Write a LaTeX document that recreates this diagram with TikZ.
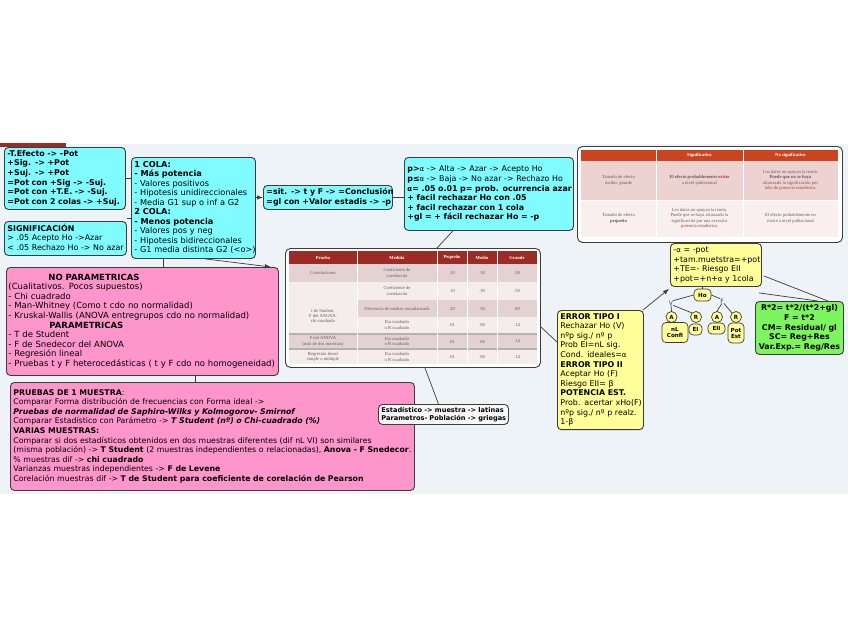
\documentclass[tikz,border=0pt]{standalone}
\usepackage{fontspec}
\setmainfont{DejaVu Sans}
\newfontfamily\tabfont{Liberation Serif}
\usetikzlibrary{arrows.meta}

\definecolor{bgmap}{HTML}{EDF3F6}
\definecolor{cyanbox}{HTML}{80FBFF}
\definecolor{pinkbox}{HTML}{FF96CB}
\definecolor{yellowbox}{HTML}{FFFF99}
\definecolor{greenbox}{HTML}{7DF55E}
\definecolor{boxline}{HTML}{3C3C3C}
\definecolor{thead}{HTML}{9B2B24}
\definecolor{tdark}{HTML}{E4D2D2}
\definecolor{tlight}{HTML}{F5ECEC}
\definecolor{ohead}{HTML}{CB4420}
\definecolor{odark}{HTML}{ECD2D1}
\definecolor{olight}{HTML}{F8EFEE}
\definecolor{ttext}{HTML}{6B5858}
\definecolor{tred}{HTML}{B23A2A}

\newcommand{\mapfont}{\fontsize{7.9}{9.6}\selectfont}
\newcommand{\bigmapfont}{\fontsize{8.2}{9.5}\selectfont}
\newcommand{\smallmapfont}{\fontsize{6.6}{8}\selectfont}
\newcommand{\tinyfont}{\tabfont\fontsize{4.6}{5.4}\selectfont}
\newcommand{\boxlines}[1]{\begin{tabular}{@{}l@{}}#1\end{tabular}}

\tikzset{
  mapbox/.style={draw=boxline, line width=0.9pt, rounded corners=4pt, anchor=north west, inner xsep=3pt, inner ysep=2pt, align=left, font=\mapfont},
  cyannode/.style={mapbox, fill=cyanbox},
  pinknode/.style={mapbox, fill=pinkbox},
  yellownode/.style={mapbox, fill=yellowbox},
  greennode/.style={mapbox, fill=greenbox, align=center},
  tablebox/.style={draw=boxline, fill=white, line width=0.9pt, rounded corners=5pt, anchor=north west, inner sep=0pt},
  pill/.style={draw=boxline, fill=yellowbox, rounded corners=4pt, line width=0.7pt, inner sep=0.5pt, font=\bfseries\fontsize{5.6}{6}\selectfont, align=center},
  bubble/.style={pill, circle, minimum size=11pt},
  link/.style={draw=boxline, line width=0.7pt},
  cell/.style={font=\tinyfont, text=ttext, align=center, inner sep=0pt},
}

\begin{document}
\begin{tikzpicture}[x=1pt,y=-1pt]
  \useasboundingbox (0,0) rectangle (848,638);
  \fill[bgmap] (0,144) rectangle (848,494);
  \fill[thead] (0,143) rectangle (66,147);

  % left column
  \node[cyannode, font=\mapfont\bfseries, text width=115pt, minimum height=62pt] (effA) at (4,147) {\boxlines{
    -T.Efecto -> -Pot\\
    +Sig. -> +Pot\\
    +Suj. -> +Pot\\
    =Pot con +Sig -> -Suj.\\
    =Pot con +T.E. -> -Suj.\\
    =Pot con 2 colas -> +Suj.}};
  \node[cyannode, text width=116pt, minimum height=34pt] (sig) at (4,221) {\boxlines{
    \textbf{SIGNIFICACIÓN}\\
    > .05 Acepto Ho ->Azar\\
    < .05 Rechazo Ho -> No azar}};
  \node[cyannode, font=\bigmapfont, text width=118pt, minimum height=101pt] (cola) at (131,157) {\boxlines{
    \textbf{1 COLA:}\\
    \textbf{- Más potencia}\\
    - Valores positivos\\
    - Hipotesis unidireccionales\\
    - Media G1 sup o inf a G2\\
    \textbf{2 COLA:}\\
    \textbf{- Menos potencia}\\
    - Valores pos y neg\\
    - Hipotesis bidireccionales\\
    - G1 media distinta G2 (<o>)}};
  \node[cyannode, font=\mapfont\bfseries, text width=123pt, minimum height=24pt] (sit) at (263,185) {\boxlines{
    =sit. -> t y F -> =Conclusión\\
    =gl con +Valor estadis -> -p}};
  \node[cyannode, text width=163pt, minimum height=73pt] (pval) at (404,157) {\boxlines{
    \textbf{p>}{\scriptsize α} -> Alta -> Azar -> Acepto Ho\\
    \textbf{p≤}{\scriptsize α} -> Baja -> No azar -> Rechazo Ho\\
    \textbf{{\scriptsize α}= .05 o.01 p= prob. ocurrencia azar}\\
    \textbf{+ facil rechazar Ho con .05}\\
    \textbf{+ facil rechazar con 1 cola}\\
    \textbf{+gl = + fácil rechazar Ho = -p}}};

  \node[pinknode, font=\fontsize{8.5}{9.6}\selectfont, inner xsep=2pt, text width=268pt, minimum height=108pt] (nopar) at (6,267) {\boxlines{
    \hspace*{40pt}\textbf{NO PARAMETRICAS}\\
    (Cualitativos. Pocos supuestos)\\
    - Chi cuadrado\\
    - Man-Whitney (Como t cdo no normalidad)\\
    - Kruskal-Wallis (ANOVA entregrupos cdo no normalidad)\\
    \hspace*{41pt}\textbf{PARAMETRICAS}\\
    - T de Student\\
    - F de Snedecor del ANOVA\\
    - Regresión lineal\\
    - Pruebas t y F heterocedásticas ( t y F cdo no homogeneidad)}};
  \node[pinknode, font=\fontsize{7.8}{9.6}\selectfont, text width=398pt, minimum height=108pt] (prue) at (10,382) {\boxlines{
    \textbf{PRUEBAS DE 1 MUESTRA}:\\
    Comparar Forma distribución de frecuencias con Forma ideal ->\\
    \textbf{\textit{Pruebas de normalidad de Saphiro-Wilks y Kolmogorov- Smirnof}}\\
    Comparar Estadístico con Parámetro -> \textbf{\textit{T Student (nº) o Chi-cuadrado (\%)}}\\
    \textbf{VARIAS MUESTRAS:}\\
    Comparar si dos estadísticos obtenidos en dos muestras diferentes (dif nL VI) son similares\\
    (misma población) -> \textbf{T Student} (2 muestras independientes o relacionadas), \textbf{Anova - F Snedecor}.\\
    \% muestras dif -> \textbf{chi cuadrado}\\
    Varianzas muestras independientes -> \textbf{F de Levene}\\
    Corelación muestras dif -> \textbf{T de Student para coeficiente de corelación de Pearson}}};
  \node[mapbox, fill=white!94!gray, font=\smallmapfont\bfseries, text width=124pt, minimum height=19pt] (estad) at (378,404) {\boxlines{
    Estadístico -> muestra -> latinas\\
    Parametros- Población -> griegas}};

  % tabla de tamanos del efecto
  \node[tablebox, minimum width=255pt, minimum height=119pt] (tabA) at (285,248) {};
  \fill[thead] (289,251) rectangle (537,264);
  \fill[tdark] (289,264) rectangle (537,282);
  \fill[tlight] (289,282) rectangle (537,300);
  \fill[tdark] (357,300) rectangle (537,317);
  \fill[tlight] (289,300) rectangle (357,333);
  \fill[tlight] (357,317) rectangle (537,333);
  \fill[gray!60] (289,333) rectangle (537,335);
  \fill[tdark] (289,335) rectangle (537,348);
  \fill[gray!60] (289,348) rectangle (537,349.5);
  \fill[tlight] (289,349.5) rectangle (537,364);
  \foreach \cx in {357,437,467,497}
    \draw[white, line width=0.6pt] (\cx,251) -- (\cx,364);
  \foreach \hx/\htxt [count=\i] in {323/Prueba, 397/Medida, 452/Pequeño, 482/Medio, 517/Grande}
    \node[cell, text=white, font=\tinyfont\bfseries] (tAh\i) at (\hx,257.5) {\htxt};
  \node[cell] (tAp1) at (323,273) {Correlaciones};
  \node[cell] (tAp2) at (323,316) {t de Student,\\F del ANOVA,\\chi-cuadrado};
  \node[cell] (tAp3) at (323,341.5) {F del ANOVA\\(más de dos muestras)};
  \node[cell] (tAp4) at (323,357) {Regresión lineal\\simple o múltiple};
  \node[cell] (tAm1) at (397,273) {Coeficiente de\\correlación};
  \node[cell] (tAm2) at (397,291) {Coeficiente de\\correlación};
  \node[cell] (tAm3) at (397,308.5) {Diferencia de medias estandarizada};
  \node[cell] (tAm4) at (397,325) {Eta cuadrado\\o R cuadrado};
  \node[cell] (tAm5) at (397,341.5) {Eta cuadrado\\o R cuadrado};
  \node[cell] (tAm6) at (397,357) {Eta cuadrado\\o R cuadrado};
  \foreach \ry/\va/\vb/\vc [count=\i] in {273/.10/.30/.50, 291/.10/.30/.50, 308.5/.20/.50/.80,
      325/.01/.06/.14, 341.5/.01/.06/.14, 357/.01/.06/.14}{
    \node[cell] (tAa\i) at (452,\ry) {\va};
    \node[cell] (tAb\i) at (482,\ry) {\vb};
    \node[cell] (tAc\i) at (517,\ry) {\vc};
  }

  % tabla significacion / tamano
  \node[tablebox, minimum width=265pt, minimum height=96pt] (tabB) at (577,146) {};
  \fill[ohead] (581,150) rectangle (838,161);
  \fill[odark] (581,161) rectangle (838,200);
  \fill[olight] (581,200) rectangle (838,237);
  \draw[white, line width=0.6pt] (656,150) -- (656,237) (743,150) -- (743,237) (581,200) -- (838,200);
  \node[cell, text=white, font=\tinyfont\bfseries] (tBh1) at (699.5,155.5) {Significativo};
  \node[cell, text=white, font=\tinyfont\bfseries] (tBh2) at (790.5,155.5) {No significativo};
  \node[cell] (tBa1) at (618.5,180.5) {Tamaño de efecto\\medio- grande};
  \node[cell] (tBa2) at (618.5,218.5) {Tamaño de efecto\\\textbf{pequeño}};
  \node[cell] (tBb1) at (699.5,180.5) {\textbf{El efecto probablemente \textcolor{tred}{existe}}\\a nivel poblacional};
  \node[cell] (tBb2) at (699.5,218.5) {Los datos no apoyan la teoría.\\Puede que se haya alcanzado la\\significación por una excesiva\\\textcolor{tred}{potencia estadística.}};
  \node[cell] (tBc1) at (790.5,180.5) {Los datos no apoyan la teoría.\\\textbf{Puede que no se haya}\\alcanzado la significación por\\\textcolor{tred}{falta de potencia estadística.}};
  \node[cell] (tBc2) at (790.5,218.5) {El efecto probablemente no\\existe a nivel poblacional};

  % derecha
  \node[yellownode, text width=80pt, minimum height=118pt] (err) at (557,310) {\boxlines{
    \textbf{ERROR TIPO I}\\
    Rechazar Ho (V)\\
    nºp sig./ nº p\\
    Prob EI=nL sig.\\
    Cond. ideales={\scriptsize α}\\
    \textbf{ERROR TIPO II}\\
    Aceptar Ho (F)\\
    Riesgo EII= β\\
    \textbf{POTENCIA EST.}\\
    Prob. acertar xHo(F)\\
    nºp sig./ nº p realz.\\
    1-β}};
  \node[yellownode, text width=85pt, minimum height=43pt] (alpha) at (670,243) {\boxlines{
    -{\scriptsize α} = -pot\\
    +tam.muetstra=+pot\\
    +TE=- Riesgo EII\\
    +pot=+n+{\scriptsize α} y 1cola}};
  \node[greennode, font=\fontsize{7.9}{9.6}\selectfont\bfseries, text width=82pt, minimum height=53pt] (green) at (755,301) {
    R*2= t*2/(t*2+gl)\\
    F = t*2\\
    CM= Residual/ gl\\
    SC= Reg+Res\\
    Var.Exp.= Reg/Res};

  % arbol Ho
  \node[pill, minimum width=17pt, minimum height=12pt] (ho) at (702.5,295) {Ho};
  \node[inner sep=0pt, text=boxline, font=\fontsize{6}{6}\selectfont] (vlab) at (671,303) {V};
  \node[inner sep=0pt, text=boxline, font=\fontsize{6}{6}\selectfont] (flab) at (722,301) {F};
  \node[bubble] (aV) at (671.5,317) {A};
  \node[bubble] (rV) at (696,317) {R};
  \node[bubble] (aF) at (717,317) {A};
  \node[bubble] (rF) at (736,317) {R};
  \node[pill, minimum width=26pt, minimum height=20pt] (conf) at (675,332.5) {nL\\Confi};
  \node[pill, minimum width=13pt, minimum height=11pt] (eI) at (695.5,329.5) {EI};
  \node[pill, minimum width=17pt, minimum height=11pt] (eII) at (716.5,328.5) {EII};
  \node[pill, minimum width=16pt, minimum height=20pt] (potest) at (736,333) {Pot\\Est};

  % conectores
  \draw[link] (effA.east) -- (effA.east -| cola.west);
  \draw[link] ([yshift=3pt]sig.north east) -- ([yshift=3pt]sig.north east -| cola.west);
  \draw[link, -{Latex[length=6pt,width=4.5pt]}] (cola.east |- sit.west) -- (sit.west);
  \draw[link] (sit.east) -- (sit.east -| pval.west);
  \draw[link] ([xshift=-36pt]pval.south) -- ([xshift=24pt]tabA.north);
  \draw[link] ([xshift=-30pt]cola.south) -- ([xshift=-30pt]cola.south |- nopar.north);
  \draw[link, -{Latex[length=6pt,width=4.5pt]}] ([xshift=12pt]cola.south) -- ([xshift=-8pt]nopar.north east);
  \draw[link] ([xshift=53pt]nopar.south) -- ([xshift=53pt]nopar.south |- prue.north);
  \draw[link] ([yshift=-19pt]tabA.east) -- ([yshift=28pt]err.west);
  \draw[link] ([xshift=12pt]tabA.south) -- ([xshift=-5pt]estad.north);
  \draw[link, -{Latex[length=6pt,width=4.5pt]}] ([xshift=-1pt]err.north east) -- ([xshift=-1pt,yshift=-2pt]alpha.south west);
  \draw[link] ([xshift=2pt,yshift=-11pt]alpha.east) -- ([xshift=-16pt]green.north east);
  \draw[link] ([xshift=-3pt,yshift=-6pt]alpha.south east) -- ([xshift=-26pt]green.north east);
  \draw[link] ([xshift=31pt]tabB.south) -- ([xshift=25.5pt]alpha.north);
  \draw[link] (ho.north) -- (ho.north |- alpha.south);
  \draw[link] (ho.west) -- (vlab.north east);
  \draw[link] (ho.east) -- (flab.north west);
  \draw[link] (vlab.south) -- (aV.north);
  \draw[link] (vlab.south east) -- (rV.north west);
  \draw[link] (flab.south) -- (aF.north);
  \draw[link] (flab.south east) -- (rF.north west);
\end{tikzpicture}
\end{document}
